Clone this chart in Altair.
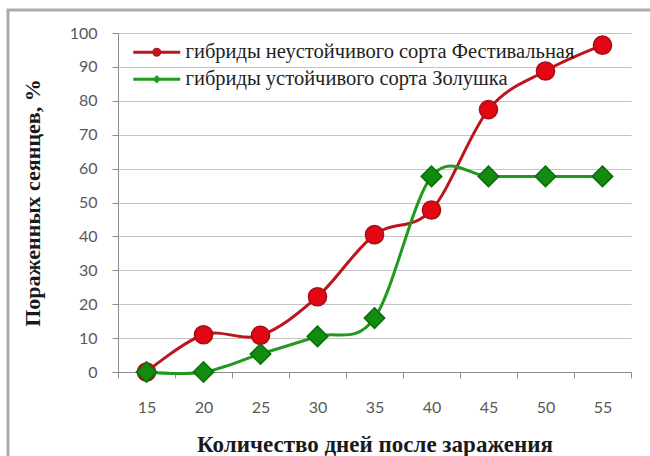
import math
import altair as alt
import pandas as pd

# ---- data ----
days = [15, 20, 25, 30, 35, 40, 45, 50, 55]
series_names = [
    "гибриды неустойчивого сорта Фестивальная",
    "гибриды устойчивого сорта Золушка",
]
red_values = [0, 11, 10.8, 22.2, 40.5, 47.8, 77.4, 88.8, 96.4]
green_values = [0, 0, 5.3, 10.5, 15.9, 57.7, 57.7, 57.7, 57.7]
y_ticks = [0, 10, 20, 30, 40, 50, 60, 70, 80, 90, 100]

x_title = "Количество дней после заражения"
y_title = "Пораженных сеянцев, %"

line_colors = ["#BE141C", "#1F9A1F"]
marker_fill = ["#E30613", "#118C11"]
marker_stroke = ["#A50F15", "#0B6E0B"]
marker_shape = ["circle", "diamond"]
marker_size = [330, 420]


# legend symbols: line segment + marker, as custom (polygon-only) paths
def poly_circle(r, n=20):
    pts = [
        f"{r * math.cos(2 * math.pi * k / n):.3f},{r * math.sin(2 * math.pi * k / n):.3f}"
        for k in range(n)
    ]
    return "M" + " L".join(pts) + " Z"


def seg(x0, x1, h=0.15):
    return f"M{x0},{-h} L{x1},{-h} L{x1},{h} L{x0},{h} Z"


legend_paths = [
    seg(-2.35, -0.43) + " " + seg(0.43, 2.35) + " " + poly_circle(0.45),
    seg(-2.35, -0.27) + " " + seg(0.27, 2.35) + " M0,-0.42 L0.42,0 L0,0.42 L-0.42,0 Z",
]

rows = []
for d, v in zip(days, red_values):
    rows.append({"day": d, "value": v, "series": series_names[0]})
for d, v in zip(days, green_values):
    rows.append({"day": d, "value": v, "series": series_names[1]})
df = pd.DataFrame(rows)

label_font = "Lato"
title_font = "Liberation Serif"
label_color = "#595959"
axis_color = "#8C8C8C"

x_enc = alt.X(
    "day:O",
    scale=alt.Scale(type="band", paddingInner=0, paddingOuter=0),
    axis=alt.Axis(
        tickBand="extent",
        grid=False,
        labelAngle=0,
        tickSize=6,
        tickColor=axis_color,
        domainColor=axis_color,
        labelPadding=21,
        labelFont=label_font,
        labelFontSize=16,
        labelColor=label_color,
        title=x_title,
        titleFont=title_font,
        titleFontSize=23,
        titleFontWeight="bold",
        titleColor="#1a1a1a",
        titlePadding=18,
    ),
)
y_enc = alt.Y(
    "value:Q",
    scale=alt.Scale(domain=[0, 100], nice=False),
    axis=alt.Axis(
        values=y_ticks,
        grid=True,
        gridColor="#C4C4C4",
        tickSize=6,
        tickColor=axis_color,
        domainColor=axis_color,
        labelPadding=15,
        labelFont=label_font,
        labelFontSize=16,
        labelColor=label_color,
        title=y_title,
        titleFont=title_font,
        titleFontSize=22,
        titleFontWeight="bold",
        titleColor="#1a1a1a",
        titlePadding=25,
    ),
)

base = alt.Chart(df).encode(x=x_enc, y=y_enc)

line_layers = []
point_layers = []
for i, name in enumerate(series_names):
    sub = base.transform_filter(alt.datum.series == name)
    line_layers.append(
        sub.mark_line(interpolate="cardinal", strokeWidth=3, color=line_colors[i])
    )
    point_layers.append(
        sub.mark_point(
            shape=marker_shape[i], filled=True, size=marker_size[i], opacity=1,
            fill=marker_fill[i], stroke=marker_stroke[i], strokeWidth=1.5,
        )
    )

legend_def = dict(
    orient="none",
    legendX=28.5,
    legendY=9,
    title=None,
    padding=0,
    symbolSize=400,
    symbolOpacity=1,
    symbolStrokeWidth=0,
    labelFont=title_font,
    labelFontSize=20.5,
    labelColor="#1e1e1e",
    labelOffset=18.5,
    labelLimit=700,
    rowPadding=6,
)

# legend-only layer: its own marks are parked outside the canvas
legend_layer = alt.Chart(df).mark_point(filled=True, size=400).encode(
    x=alt.value(-1000),
    y=alt.value(-1000),
    shape=alt.Shape(
        "series:N",
        scale=alt.Scale(domain=series_names, range=legend_paths),
        legend=alt.Legend(**legend_def),
    ),
    fill=alt.Fill(
        "series:N",
        scale=alt.Scale(domain=series_names, range=line_colors),
        legend=alt.Legend(**legend_def),
    ),
)

frame = alt.Chart(alt.Data(values=[{}])).mark_rect(
    fillOpacity=0, stroke="#ABABAB", strokeWidth=3
).encode(
    x=alt.value(-110), x2=alt.value(545),
    y=alt.value(-23), y2=alt.value(440),
)

chart = alt.layer(
    frame, line_layers[0], point_layers[0], line_layers[1], point_layers[1], legend_layer
).properties(
    width=513,
    height=339,
    autosize=alt.AutoSizeParams(type="none"),
    padding={"left": 118, "top": 33, "right": 19, "bottom": 84},
    background="white",
).configure_view(strokeWidth=0)

chart.save("out.html", embed_options={"renderer": "svg", "actions": False})
